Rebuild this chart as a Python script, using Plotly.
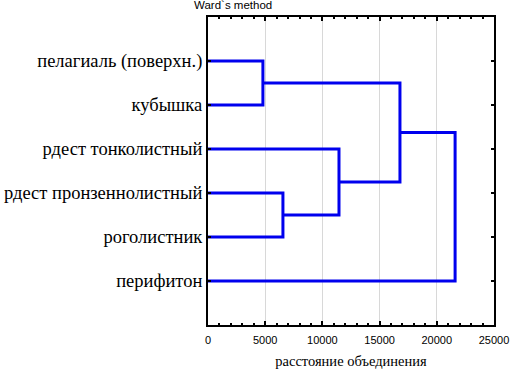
import plotly.graph_objects as go

labels = ["пелагиаль (поверхн.)", "кубышка", "рдест тонколистный",
          "рдест пронзеннолистный", "роголистник", "перифитон"]
# merges: pairs of node ids (leaves 0..5, new nodes 6..)
merge_a = [0, 3, 2, 6, 9]
merge_b = [1, 4, 7, 8, 5]
merge_h = [4800, 6550, 11450, 16780, 21600]
x_ticks = [0, 5000, 10000, 15000, 20000, 25000]

ypos = {i: i + 1 for i in range(len(labels))}
hpos = {i: 0 for i in range(len(labels))}
xs, ys = [], []
node = len(labels)
for a, b, h in zip(merge_a, merge_b, merge_h):
    xs += [hpos[a], h, h, hpos[b], None]
    ys += [ypos[a], ypos[a], ypos[b], ypos[b], None]
    ypos[node] = (ypos[a] + ypos[b]) / 2
    hpos[node] = h
    node += 1

SERIF = "Liberation Serif, Times New Roman, serif"
SANS = "Liberation Sans, Arial, sans-serif"

fig = go.Figure()
fig.add_trace(go.Scatter(x=xs, y=ys, mode="lines",
                         line=dict(color="#0000ee", width=3), hoverinfo="skip",
                         showlegend=False))

fig.update_layout(
    width=510, height=369,
    margin=dict(l=208, r=16, t=17, b=44, autoexpand=False),
    paper_bgcolor="white", plot_bgcolor="white",
    xaxis=dict(range=[0, 25000], tickvals=x_ticks, ticktext=[str(v) for v in x_ticks],
               showgrid=True, gridcolor="#d8d8d8", gridwidth=1, zeroline=False,
               showline=True, linecolor="black", linewidth=2, mirror="ticks",
               ticks="inside", ticklen=4, tickwidth=2, tickcolor="black",
               ticklabelstandoff=4,
               minor=dict(dtick=1000, ticks="inside", ticklen=2, tickcolor="black", showgrid=False),
               tickfont=dict(family=SANS, size=11, color="black"),
               title=dict(text="расстояние объединения",
                          font=dict(family=SERIF, size=14.5, color="black"),
                          standoff=12)),
    yaxis=dict(range=[7, 0], tickvals=list(range(1, len(labels) + 1)), ticktext=labels,
               showgrid=False, zeroline=False,
               showline=True, linecolor="black", linewidth=2, mirror="ticks",
               ticks="inside", ticklen=3, tickwidth=2, tickcolor="black",
               ticklabelstandoff=0,
               tickfont=dict(family=SERIF, size=18.5, color="black")),
    annotations=[dict(text="Ward`s method", x=(233 - 208) / 286, xref="paper", y=1, yref="paper",
                      yanchor="bottom", xanchor="center", yshift=4, showarrow=False,
                      font=dict(family=SANS, size=11.5, color="black"))],
)

fig.write_html("out.html", config={"displayModeBar": False},
               post_script="document.body.style.margin='0';")
